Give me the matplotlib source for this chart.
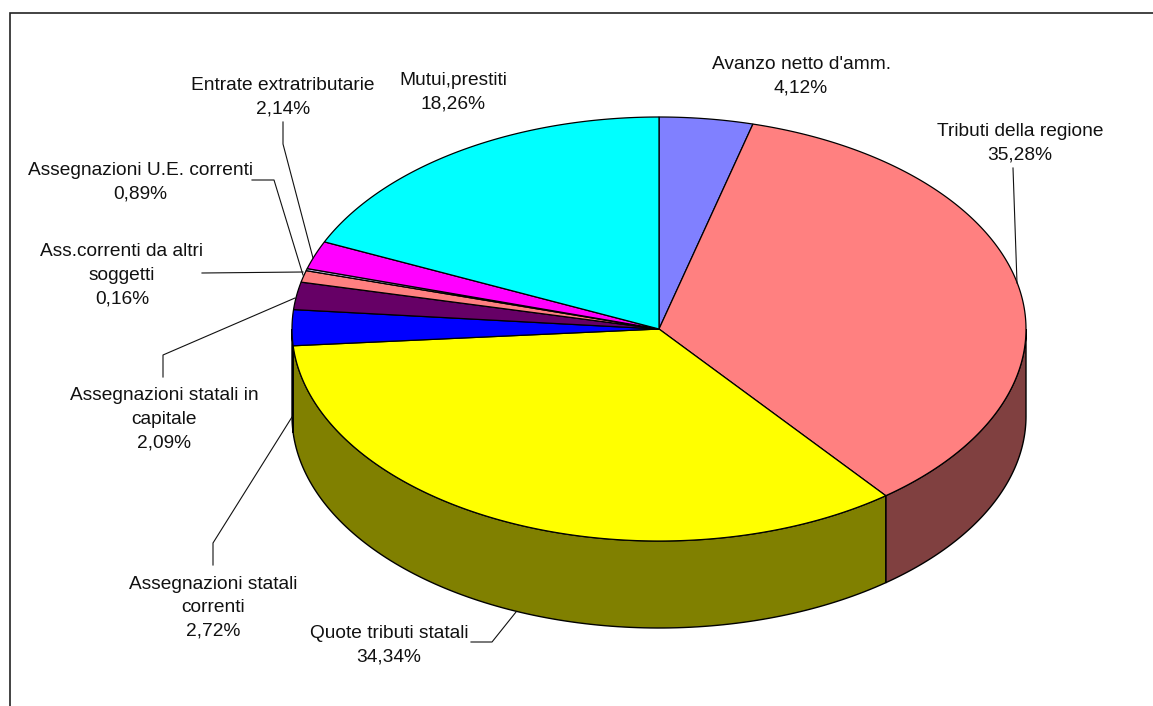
"""Regional revenue shares drawn as an Excel-style 3D pie."""
import matplotlib

matplotlib.use("Agg")
import matplotlib.pyplot as plt
import numpy as np
from matplotlib.patches import Polygon

# clockwise from twelve o'clock
shares = [4.12, 35.28, 34.34, 2.72, 2.09, 0.89, 0.16, 2.14, 18.26]
top_colors = ["#8080FF", "#FF8080", "#FFFF00", "#0000FF", "#660066",
              "#FF8080", "#CCCCFF", "#FF00FF", "#00FFFF"]
side_colors = ["#404080", "#804040", "#808000", "#000080", "#330033",
               "#804040", "#666680", "#800080", "#008080"]

labels = [
    "Avanzo netto d'amm.\n4,12%",
    "Tributi della regione\n35,28%",
    "Quote tributi statali\n34,34%",
    "Assegnazioni statali\ncorrenti\n2,72%",
    "Assegnazioni statali in\ncapitale\n2,09%",
    "Ass.correnti da altri\nsoggetti\n0,16%",
    "Assegnazioni U.E. correnti\n0,89%",
    "Entrate extratributarie\n2,14%",
    "Mutui,prestiti\n18,26%",
]
label_pos = [(801, 76), (1020, 143), (389, 645), (213, 608), (164, 419),
             (122, 275), (140, 182), (283, 97), (453, 92)]
leaders = [
    [(1013, 168), (1017, 283)],
    [(471, 642), (492, 642), (516, 612)],
    [(213, 565), (213, 543), (292, 417)],
    [(163, 377), (163, 355), (295, 298)],
    [(202, 273), (303, 272)],
    [(252, 180), (274, 180), (303, 275)],
    [(283, 122), (283, 144), (313, 258)],
]

CX, CY, RX, RY, DEPTH = 659, 329, 367, 212, 87


def rim(t):
    return np.column_stack([CX + RX * np.sin(t), CY - RY * np.cos(t)])


plt.rcParams["font.family"] = ["Liberation Sans", "DejaVu Sans"]
fig = plt.figure(figsize=(11.53, 7.06), dpi=100)
ax = fig.add_axes([0, 0, 1, 1])
ax.set_xlim(0, 1153)
ax.set_ylim(706, 0)
ax.axis("off")

# chart frame, open on the right and bottom of the crop
ax.plot([9.5, 9.5, 1153], [706, 13, 13], color="#222222", lw=1.2, zorder=1,
        solid_joinstyle="miter")

edges = np.cumsum([0] + shares) / 100 * 2 * np.pi

# outer wall, only the front half can be seen
for a, b, col in zip(edges[:-1], edges[1:], side_colors):
    lo, hi = max(a, np.pi / 2), min(b, 3 * np.pi / 2)
    if hi <= lo:
        continue
    t = np.linspace(lo, hi, 120)
    up = rim(t)
    down = up + [0, DEPTH]
    ax.add_patch(Polygon(np.vstack([up, down[::-1]]), closed=True, fc=col,
                         ec="black", lw=1.0, zorder=2))

# top face
for a, b, col in zip(edges[:-1], edges[1:], top_colors):
    t = np.linspace(a, b, max(int((b - a) * 120), 3))
    ax.add_patch(Polygon(np.vstack([[CX, CY], rim(t)]), closed=True, fc=col,
                         ec="black", lw=0.9, zorder=3))

for pts in leaders:
    xs, ys = zip(*pts)
    ax.plot(xs, ys, color="#111111", lw=0.8, zorder=4)

for txt, (x, y) in zip(labels, label_pos):
    ax.text(x, y, txt, ha="center", va="center", fontsize=13.8, color="#111111",
            linespacing=1.5, zorder=5)

fig.savefig("out.png", dpi=100)
